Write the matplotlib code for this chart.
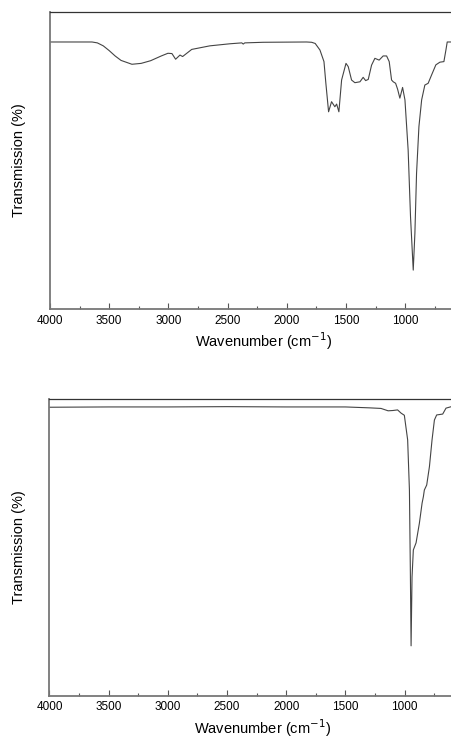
import matplotlib
matplotlib.use('Agg')
import matplotlib.pyplot as plt
from matplotlib.ticker import MultipleLocator

plt.rcParams['font.family'] = ['Liberation Sans', 'DejaVu Sans']

# Espectro superior (número de onda, transmisión relativa)
wn_top = [4000, 3645, 3600, 3550, 3500, 3450, 3400, 3308, 3230, 3150, 3060, 3004, 2970,
          2939, 2902, 2880, 2803, 2650, 2480,
          2380, 2368, 2355, 2200, 1833, 1790, 1760, 1720, 1686, 1670, 1647, 1622, 1594, 1579,
          1560, 1537, 1500, 1481, 1453, 1425, 1382, 1355, 1334, 1312, 1284, 1256, 1220,
          1186, 1157, 1135, 1115, 1101, 1081, 1064, 1045, 1022, 1002, 975, 955, 932,
          918, 904, 884, 861, 834, 806, 777, 741, 707, 673, 656, 645, 605, 400]
tr_top = [89.9, 89.9, 89.6, 88.6, 87.0, 85.2, 83.7, 82.4, 82.7, 83.6, 85.2, 86.1, 86.0,
          84.1, 85.5, 85.0, 87.4, 88.6, 89.3,
          89.6, 89.2, 89.6, 89.8, 89.9, 89.8, 89.4, 87.2, 83.3, 76.0, 66.4, 69.8, 68.1, 69.0,
          66.4, 77.1, 82.7, 81.6, 77.1, 76.2, 76.5, 78.0, 76.9, 77.3, 82.1, 84.4, 83.8,
          85.2, 85.2, 83.3, 77.1, 76.5, 76.0, 74.0, 71.0, 74.6, 70.4, 53.5, 31.1, 13.1,
          25.5, 45.7, 61.4, 70.4, 75.4, 76.0, 78.8, 82.2, 83.1, 83.3, 87.2, 89.9, 89.9, 89.9]

# Espectro inferior
wn_bot = [4000, 3500, 3000, 2500, 2000, 1500, 1300, 1200, 1140, 1100, 1060, 1030, 1003,
          975, 960, 952, 946, 938, 927, 904, 876, 853, 842, 834, 814, 791, 769, 749,
          730, 679, 651, 606, 400]
tr_bot = [97.2, 97.3, 97.3, 97.4, 97.3, 97.3, 97.0, 96.8, 96.0, 96.1, 96.3, 95.2, 94.5,
          86.2, 69.3, 41.3, 16.8, 40.0, 49.1, 51.5, 58.1, 64.9, 67.1, 69.3, 71.0, 77.2,
          86.2, 92.9, 94.6, 94.9, 96.9, 97.4, 97.4]

xticks = [4000, 3500, 3000, 2500, 2000, 1500, 1000]

fig = plt.figure(figsize=(4.52, 7.4), dpi=100)
ax1 = fig.add_axes([0.1106, 0.5824, 0.943, 0.4014])
ax2 = fig.add_axes([0.1095, 0.0599, 0.943, 0.4010])

for ax, wn, tr in [(ax1, wn_top, tr_top), (ax2, wn_bot, tr_bot)]:
    ax.plot(wn, tr, color='#444444', linewidth=0.8)
    ax.set_xlim(4000, 400)
    ax.set_ylim(0, 100)
    ax.set_xticks(xticks)
    ax.xaxis.set_minor_locator(MultipleLocator(250))
    ax.tick_params(axis='x', which='major', direction='in', length=4, width=0.8,
                   color='#555555', labelsize=8.5, pad=4)
    ax.tick_params(axis='x', which='minor', direction='in', length=2, width=0.8,
                   color='#555555')
    ax.set_yticks([])
    ax.spines['left'].set_color('#777777')
    ax.spines['left'].set_linewidth(1.3)
    ax.spines['bottom'].set_color('#777777')
    ax.spines['bottom'].set_linewidth(1.3)
    ax.spines['top'].set_color('#333333')
    ax.spines['top'].set_linewidth(0.9)
    ax.spines['right'].set_visible(False)
    ax.set_xlabel('Wavenumber (cm$^{-1}$)', fontsize=10.5, labelpad=3)
    ax.set_ylabel('Transmission (%)', fontsize=10.5, labelpad=17)

fig.savefig('out.png', dpi=100)
